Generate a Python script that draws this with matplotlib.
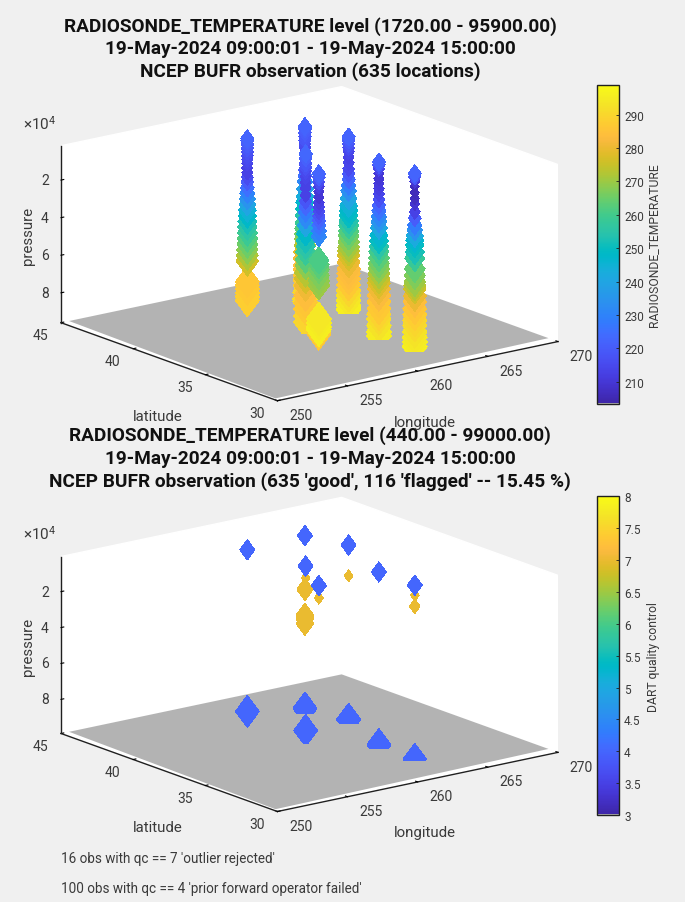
import matplotlib
matplotlib.use("Agg")
import matplotlib.pyplot as plt
import numpy as np
from matplotlib.cm import ScalarMappable
from matplotlib.colors import LinearSegmentedColormap, ListedColormap, Normalize
from matplotlib.path import Path
from matplotlib.transforms import IdentityTransform
from mpl_toolkits.mplot3d import proj3d
from mpl_toolkits.mplot3d.art3d import Poly3DCollection

plt.rcParams['font.family'] = ['Roboto', 'DejaVu Sans']
plt.rcParams['mathtext.default'] = 'regular'

# stations, listed back to front as seen from the view below
STATION_LON = [263.6, 264.4, 259.3, 260.0, 262.56, 262.7, 258.3]
STATION_LAT = [41.32, 39.07, 41.13, 37.77, 35.18, 32.83, 35.2]

OAX_P = [2700, 4000, 6000, 8000, 10000, 12000, 14000, 17000, 20000, 23000, 26000, 29000, 32000, 36000, 40000, 43000, 46500, 50000, 54000, 57000, 60000, 62500, 66000, 69500, 73000, 76700, 79000, 82000, 84500, 87400, 91000, 94500, 95900]
OAX_T = [222, 221, 220, 219, 218, 216, 215, 214, 214, 215, 220, 225, 231, 238, 243, 247, 250, 254, 258, 262, 265, 268, 273, 278, 281, 284, 285, 286, 287, 288, 290, 291, 292]
TOP_P = [3260, 5000, 7000, 9000, 11200, 14000, 17000, 20200, 23000, 26000, 29100, 32000, 36000, 39800, 42500, 45100, 48000, 50400, 53500, 56000, 59300, 62000, 64000, 66400, 70000, 73500, 76000, 78800, 82000, 85000, 87700, 90500, 93100, 95000]
TOP_T = [222, 220, 218, 216, 214, 213, 214, 215, 219, 223, 228, 233, 240, 245, 248, 250, 254, 258, 262, 265, 268, 271, 274, 277, 280, 283, 284, 285, 287, 290, 292, 294, 296, 296]
LBF_P = [1820, 3000, 5000, 7000, 9000, 11000, 13000, 15000, 17500, 20000, 22500, 25000, 28000, 31000, 34000, 37000, 40000, 43000, 46000, 49000, 52000, 55000, 58000, 61000, 64000, 67000, 78000, 80000, 82000, 84000, 86000, 88000]
LBF_T = [222, 221, 220, 219, 217, 216, 215, 214, 213, 213, 216, 220, 225, 230, 235, 240, 245, 248, 252, 256, 259, 262, 265, 268, 272, 276, 286, 287, 287, 288, 288, 288]
DDC_P = [1800, 4000, 7000, 9000, 11200, 14000, 17000, 20000, 23800, 27000, 30000, 33000, 36300, 40000, 44300, 48000, 51000, 54000, 58000, 61200, 65000, 68200, 72000, 77200, 81000, 84300, 88000, 91200]
DDC_T = [223, 221, 219, 217, 215, 214, 213, 213, 213, 218, 223, 228, 232, 240, 248, 252, 255, 258, 263, 268, 273, 277, 281, 284, 286, 287, 289, 290]
OUN_P = [2900, 4500, 6500, 9100, 12000, 14500, 17100, 20000, 23000, 26000, 29000, 32000, 34800, 38000, 42000, 45000, 48000, 50700, 54000, 57000, 59800, 62500, 65100, 67500, 70500, 74000, 77400, 81000, 84000, 86400, 90000, 93400, 95500]
OUN_T = [222, 219, 214, 210, 210, 211, 212, 214, 217, 222, 226, 231, 235, 241, 247, 250, 255, 260, 263, 266, 268, 272, 275, 278, 281, 283, 286, 287, 289, 291, 293, 295, 295]
FWD_P = [2800, 4500, 7000, 9800, 13000, 16100, 19000, 23200, 26500, 30400, 33000, 36000, 38400, 41000, 44600, 48000, 53500, 57000, 60500, 62500, 64200, 68000, 71000, 74800, 78000, 81000, 83700, 87000, 90000, 92500, 95000]
FWD_T = [222, 218, 210, 206, 206, 207, 209, 213, 220, 228, 234, 242, 247, 250, 252, 258, 264, 267, 270, 273, 276, 280, 284, 286, 288, 290, 291, 293, 294, 295, 296]
AMA_P = [2500, 4500, 7000, 9500, 12100, 15000, 18000, 20500, 22800, 25000, 27500, 30100, 33000, 36100, 48700, 51000, 53500, 56700, 59500, 62000, 79800, 82000, 84000, 85500, 86800, 88000]
AMA_T = [222, 220, 216, 212, 210, 210, 212, 214, 216, 219, 222, 226, 229, 231, 261, 263, 265, 267, 269, 270, 294, 295, 296, 296, 288, 286]

GOOD_P = [OAX_P, TOP_P, LBF_P, DDC_P, OUN_P, FWD_P, AMA_P]
GOOD_T = [OAX_T, TOP_T, LBF_T, DDC_T, OUN_T, FWD_T, AMA_T]

# flagged observations: index into the station lists, pressure, temperature, qc
BAD_STATION = [0, 0, 1, 1, 2, 2, 3, 3, 4, 4, 5, 5, 6, 6,
               0, 0, 1, 1, 2, 2, 3, 3, 4, 4, 5, 5,
               0, 0, 0, 0, 0, 0, 3, 3, 6, 6, 1, 1, 5, 5, 5, 5]
BAD_P = [440, 600, 500, 700, 720, 900, 1200, 1400, 1200, 1400, 2000, 2200, 1800, 2000,
         96500, 97000, 97500, 98000, 90700, 90900, 92700, 92900, 97300, 97800, 99000, 99000,
         31000, 30000, 44800, 46000, 49500, 47000, 7900, 8000, 8800, 8900, 17600, 17800, 7600, 7700, 13700, 13900]
BAD_T = [230, 230, 230, 230, 230, 230, 230, 230, 230, 230, 230, 230, 230, 230,
         285, 285, 285, 285, 285, 285, 285, 285, 285, 285, 285, 285,
         232, 232, 245, 245, 245, 245, 206, 206, 207, 207, 206, 206, 206, 206, 212, 212]
BAD_QC = [4, 4, 4, 4, 4, 4, 4, 4, 4, 4, 4, 4, 4, 4,
          4, 4, 4, 4, 4, 4, 4, 4, 4, 4, 4, 4,
          7, 7, 7, 7, 7, 7, 7, 7, 7, 7, 7, 7, 7, 7, 7, 7]

LON_TICKS = [250, 255, 260, 265, 270]
LAT_TICKS = [30, 35, 40, 45]
PRES_TICKS = [20000, 40000, 60000, 80000]
PRES_LABELS = ['2', '4', '6', '8']
QC_TICKS = [3, 3.5, 4, 4.5, 5, 5.5, 6, 6.5, 7, 7.5, 8]
QC_LABELS = ['3', '3.5', '4', '4.5', '5', '5.5', '6', '6.5', '7', '7.5', '8']
TEMP_TICKS = [210, 220, 230, 240, 250, 260, 270, 280, 290]

TITLE_TOP = ["RADIOSONDE_TEMPERATURE level (1720.00 - 95900.00)",
             "19-May-2024 09:00:01 - 19-May-2024 15:00:00",
             "NCEP BUFR observation (635 locations)"]
TITLE_BOT = ["RADIOSONDE_TEMPERATURE level (440.00 - 99000.00)",
             "19-May-2024 09:00:01 - 19-May-2024 15:00:00",
             "NCEP BUFR observation (635 'good', 116 'flagged' -- 15.45 %)"]

W, H = 685, 903
BG = '#f0f0f0'
INK = '#3a3a3a'
GRAY = (0.7, 0.7, 0.7, 1.0)
BOX = (353, 356, 184)
DIAMOND = np.array([[0, 0.5], [0.37, 0], [0, -0.5], [-0.37, 0], [0, 0.5]])

stops = [(.2422, .1504, .6603), (.2504, .1650, .7076), (.2578, .1818, .7511), (.2647, .1978, .7952),
         (.2706, .2147, .8364), (.2751, .2342, .8710), (.2783, .2559, .8991), (.2803, .2782, .9221),
         (.2813, .3006, .9414), (.2810, .3228, .9579), (.2795, .3447, .9717), (.2760, .3667, .9829),
         (.2699, .3892, .9906), (.2602, .4123, .9952), (.2440, .4358, .9988), (.2206, .4603, .9973),
         (.1963, .4847, .9892), (.1834, .5074, .9798), (.1786, .5289, .9682), (.1764, .5499, .9520),
         (.1687, .5703, .9359), (.1540, .5902, .9218), (.1460, .6091, .9079), (.1380, .6276, .8973),
         (.1248, .6459, .8883), (.1113, .6635, .8763), (.0952, .6798, .8598), (.0689, .6948, .8394),
         (.0297, .7082, .8163), (.0036, .7203, .7917), (.0067, .7312, .7660), (.0433, .7411, .7394),
         (.0964, .7500, .7120), (.1408, .7584, .6842), (.1717, .7670, .6554), (.1938, .7758, .6251),
         (.2161, .7843, .5923), (.2470, .7918, .5567), (.2906, .7973, .5188), (.3406, .8008, .4789),
         (.3909, .8029, .4354), (.4456, .8024, .3909), (.5044, .7993, .3480), (.5616, .7942, .3045),
         (.6174, .7876, .2612), (.6720, .7793, .2227), (.7242, .7698, .1910), (.7738, .7598, .1646),
         (.8203, .7498, .1535), (.8634, .7406, .1596), (.9035, .7330, .1774), (.9393, .7288, .2100),
         (.9728, .7294, .2394), (.9956, .7434, .2371), (.9970, .7659, .2199), (.9952, .7861, .1999),
         (.9892, .8137, .1885), (.9786, .8366, .1785), (.9676, .8639, .1643), (.9610, .8890, .1537),
         (.9597, .9135, .1423), (.9628, .9373, .1265), (.9691, .9606, .1064), (.9769, .9839, .0805)]
parula = LinearSegmentedColormap.from_list('parula', stops, N=255)
# the lowest colormap row is the land gray
cmap = ListedColormap([GRAY] + [parula(i) for i in range(255)])


def to_pixels(ax, x, y, z):
    px, py, _ = proj3d.proj_transform(x, y, z, ax.get_proj())
    return ax.transData.transform((px, py))


def place_box(ax, front_px, right_px, zbottom):
    # scale and shift the 3d box so its front and right floor corners land where wanted
    front = (front_px[0], H - front_px[1])
    size = 600
    ax.set_position([0.1, 0.1, size / W, size / H])
    ax.apply_aspect()
    a = to_pixels(ax, 250, 30, zbottom)
    b = to_pixels(ax, 270, 30, zbottom)
    ax.set_box_aspect(BOX, zoom=(right_px[0] - front_px[0]) / (b[0] - a[0]))
    a = to_pixels(ax, 250, 30, zbottom)
    x0 = 0.1 + (front[0] - a[0]) / W
    y0 = 0.1 + (front[1] - a[1]) / H
    ax.set_position([x0, y0, size / W, size / H])
    ax.apply_aspect()


def label_at(ax, x, y, z, dx, dy, text):
    # tick label placed a fixed pixel offset from its projected tick
    px, py = to_pixels(ax, x, y, z)
    fig.text((px + dx) / W, (py - dy) / H, text, fontsize=10, color=INK, ha='center', va='center')


def make_axes(zlim, front_px, right_px):
    ax = fig.add_axes([0.1, 0.1, 600 / W, 600 / H], projection='3d', computed_zorder=False,
                      proj_type='ortho', facecolor='none')
    ax.view_init(elev=16, azim=-127.4)
    ax.set_xlim(250, 270)
    ax.set_ylim(30, 45)
    ax.set_zlim(zlim[1], zlim[0])
    ax.set_box_aspect(BOX)
    ax.grid(False)
    ax.set_xticks(LON_TICKS)
    ax.set_yticks(LAT_TICKS)
    ax.set_zticks(PRES_TICKS)
    ax.set_xticklabels([])
    ax.set_yticklabels([])
    ax.set_zticklabels([])
    for axis in (ax.xaxis, ax.yaxis, ax.zaxis):
        axis.set_pane_color((1, 1, 1, 1))
        axis.pane.set_edgecolor('white')
        axis.line.set_color('#202020')
        axis.line.set_linewidth(1.0)
        axis._axinfo['tick']['inward_factor'] = 0.0
        axis._axinfo['tick']['outward_factor'] = 0.12
        axis._axinfo['tick']['color'] = '#202020'
        axis._axinfo['tick']['linewidth'] = {True: 0.8, False: 0.5}
    place_box(ax, front_px, right_px, zlim[1])
    for lon in LON_TICKS:
        label_at(ax, lon, 30, zlim[1], 23.3, 14.3, str(lon))
    for lat in LAT_TICKS:
        label_at(ax, 250, lat, zlim[1], -20.4, 12.5, str(lat))
    for p, text in zip(PRES_TICKS, PRES_LABELS):
        label_at(ax, 250, 45, p, -16, 0, text)
    floor = Poly3DCollection([[(250.2, 30.33, zlim[1]), (270, 30.66, zlim[1]),
                               (270, 45, zlim[1]), (250.57, 45, zlim[1])]],
                             facecolors=[GRAY], edgecolors='none', zorder=1)
    ax.add_collection3d(floor)
    return ax


def draw_station(ax, lon, lat, pres, temp, colors, vmin, vmax, zbottom, order, sink):
    temp = np.asarray(temp, dtype=float)
    sizes = 5.7 * (temp - 194)
    coll = ax.scatter(np.full(len(pres), lon), np.full(len(pres), lat), pres, c=colors, s=sizes,
                      marker=DIAMOND, cmap=cmap, vmin=vmin, vmax=vmax, depthshade=False,
                      linewidths=0, antialiaseds=False, zorder=order)
    # marks sink below the land surface at the station
    fy = to_pixels(ax, lon, lat, zbottom)[1] - sink
    coll.set_clip_path(Path([[0, fy], [W, fy], [W, H], [0, H], [0, fy]]), IdentityTransform())


def add_colorbar(rect_px, vmin, vmax, ticks, labels, text, labelpad):
    x0, y0, x1, y1 = rect_px
    cax = fig.add_axes([x0 / W, 1 - y1 / H, (x1 - x0) / W, (y1 - y0) / H])
    cb = fig.colorbar(ScalarMappable(Normalize(vmin, vmax), cmap), cax=cax)
    cb.set_ticks(ticks)
    if labels:
        cb.set_ticklabels(labels)
    cax.tick_params(direction='in', length=2.5, width=0.6, color='#202020', labelsize=8.5,
                    labelcolor=INK, pad=4)
    cb.outline.set_edgecolor('#202020')
    cb.outline.set_linewidth(1.0)
    cb.set_label(text, fontsize=8.75, color=INK, labelpad=labelpad)


def add_axis_text(dy, xy_lat, xy_lon, xy_pres, xy_exp):
    fig.text(xy_lat[0] / W, 1 - (xy_lat[1] + dy) / H, 'latitude', fontsize=10.8, color=INK,
             ha='center', va='center')
    fig.text(xy_lon[0] / W, 1 - (xy_lon[1] + dy) / H, 'longitude', fontsize=10.8, color=INK,
             ha='center', va='center')
    fig.text(xy_pres[0] / W, 1 - (xy_pres[1] + dy) / H, 'pressure', fontsize=10.8, color=INK,
             ha='center', va='center', rotation=90)
    fig.text(xy_exp[0] / W, 1 - (xy_exp[1] + dy) / H, r'$\times 10^{4}$', fontsize=11, color=INK,
             ha='center', va='center')


fig = plt.figure(figsize=(W / 100, H / 100), dpi=100, facecolor=BG)

# upper panel: all good observations coloured by temperature
ax1 = make_axes((1720, 95900), (277.4, 401.7), (558, 343))
for i in range(len(STATION_LON)):
    draw_station(ax1, STATION_LON[i], STATION_LAT[i], GOOD_P[i], GOOD_T[i], GOOD_T[i],
                 203.3, 299, 95900, 10 + i, 3.5)

# lower panel: flagged observations coloured by qc
ax2 = make_axes((440, 99000), (277.4, 812.5), (558, 754))
bad_station = np.array(BAD_STATION)
bad_p = np.array(BAD_P)
bad_t = np.array(BAD_T)
bad_qc = np.array(BAD_QC)
for i in range(len(STATION_LON)):
    keep = bad_station == i
    draw_station(ax2, STATION_LON[i], STATION_LAT[i], bad_p[keep], bad_t[keep], bad_qc[keep],
                 3, 8, 99000, 10 + i, 2)

add_colorbar((597, 85.7, 618.5, 405), 203.3, 299, TEMP_TICKS, None, 'RADIOSONDE_TEMPERATURE', 2.5)
add_colorbar((597, 497.3, 618.5, 816), 3, 8, QC_TICKS, QC_LABELS, 'DART quality control', 5)

for k, line in enumerate(TITLE_TOP):
    fig.text(310 / W, 1 - (27 + 22.5 * k) / H, line, fontsize=13.7, fontweight='bold',
             color='#111111', ha='center', va='center')
for k, line in enumerate(TITLE_BOT):
    fig.text(310 / W, 1 - (436 + 23 * k) / H, line, fontsize=13.7, fontweight='bold',
             color='#111111', ha='center', va='center')

add_axis_text(0, (158, 417), (425, 423), (28, 236), (40, 124))
add_axis_text(411, (158, 417), (425, 422), (28, 236), (40, 123))

fig.text(61 / W, 1 - 859 / H, "16 obs with qc == 7 'outlier rejected'", fontsize=9.75, color=INK,
         va='center')
fig.text(61 / W, 1 - 889 / H, "100 obs with qc == 4 'prior forward operator failed'", fontsize=9.75,
         color=INK, va='center')

fig.savefig('out.png', dpi=100, facecolor=BG)
